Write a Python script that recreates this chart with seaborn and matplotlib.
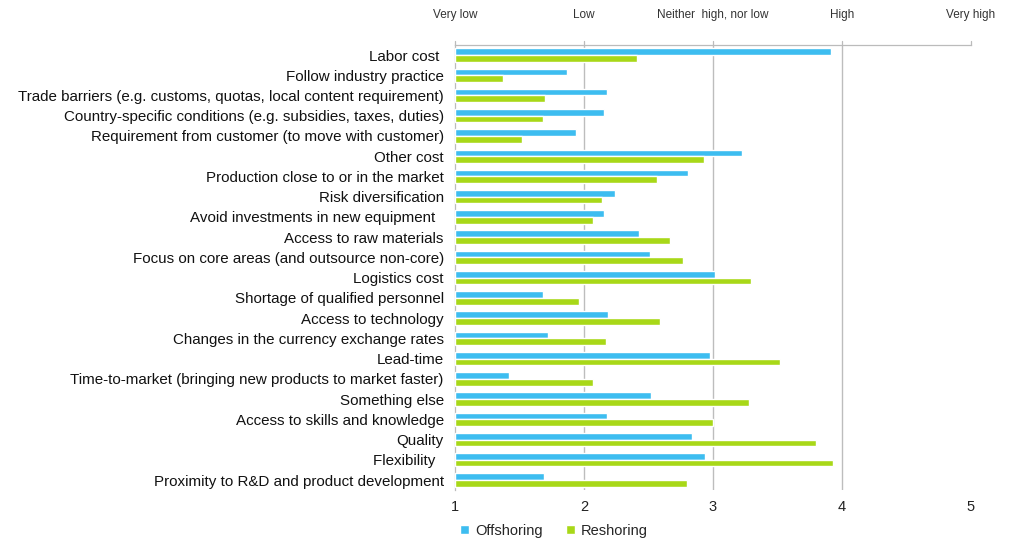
import matplotlib
matplotlib.use("Agg")
import matplotlib.pyplot as plt
import seaborn as sns
import pandas as pd

categories = [
    "Labor cost ",
    "Follow industry practice",
    "Trade barriers (e.g. customs, quotas, local content requirement)",
    "Country-specific conditions (e.g. subsidies, taxes, duties)",
    "Requirement from customer (to move with customer)",
    "Other cost",
    "Production close to or in the market",
    "Risk diversification",
    "Avoid investments in new equipment  ",
    "Access to raw materials",
    "Focus on core areas (and outsource non-core)",
    "Logistics cost",
    "Shortage of qualified personnel",
    "Access to technology",
    "Changes in the currency exchange rates",
    "Lead-time",
    "Time-to-market (bringing new products to market faster)",
    "Something else",
    "Access to skills and knowledge",
    "Quality",
    "Flexibility  ",
    "Proximity to R&D and product development",
]
offshoring = [3.92, 1.87, 2.18, 2.16, 1.94, 3.23, 2.81, 2.24, 2.16, 2.43, 2.51,
              3.02, 1.68, 2.19, 1.72, 2.98, 1.42, 2.52, 2.18, 2.84, 2.94, 1.69]
reshoring = [2.41, 1.37, 1.70, 1.68, 1.52, 2.93, 2.57, 2.14, 2.07, 2.67, 2.77,
             3.30, 1.96, 2.59, 2.17, 3.52, 2.07, 3.28, 3.00, 3.80, 3.93, 2.80]
series_names = ["Offshoring", "Reshoring"]
x_ticks = [1, 2, 3, 4, 5]
scale_labels = ["Very low", "Low", "Neither  high, nor low", "High", "Very high"]

df = pd.DataFrame({
    "factor": categories * 2,
    "value": offshoring + reshoring,
    "series": [series_names[0]] * len(categories) + [series_names[1]] * len(categories),
})

sns.set_theme(style="white")
plt.rcParams["font.family"] = ["Liberation Sans", "DejaVu Sans"]

fig = plt.figure(figsize=(10.11, 5.41), dpi=100)
ax = fig.add_axes([0.450, 0.094, 0.510, 0.823])

palette = {"Offshoring": "#3DBDF0", "Reshoring": "#A8D818"}
sns.barplot(data=df, y="factor", x="value", hue="series", palette=palette,
            orient="h", width=0.66, gap=0, ax=ax, saturation=1, legend=True, zorder=3)

# bars start at 1 (axis origin)
for patch in ax.patches:
    w = patch.get_width()
    if w > 0:
        patch.set_x(1)
        patch.set_width(w - 1)

ax.set_xlim(1, 5)
ax.set_ylim(len(categories) - 0.5, -0.5)
ax.set_xticks(x_ticks)
ax.set_xticklabels([str(t) for t in x_ticks], fontsize=10.5, color="#222222")
ax.tick_params(axis="x", length=0, pad=7)
ax.set_xlabel("")
ax.set_ylabel("")
ax.tick_params(axis="y", length=0, labelsize=10.9, pad=8, labelcolor="#111111")
ax.set_yticks(range(len(categories)), minor=False)
ax.set_yticks([i + 0.5 for i in range(-1, len(categories))], minor=True)
ax.tick_params(axis="y", which="minor", length=3, color="#BBBBBB", width=0.8)

ax.grid(False)
for xv in x_ticks[1:-1]:
    ax.axvline(xv, color="#BDBDBD", linewidth=1.0, zorder=1)
for s in ["right", "bottom"]:
    ax.spines[s].set_visible(False)
for s in ["left", "top"]:
    ax.spines[s].set_color("#BBBBBB")
    ax.spines[s].set_linewidth(0.9)

# top scale labels
for xv, lab in zip(x_ticks, scale_labels):
    ax.text(xv, 1.067, lab, transform=ax.get_xaxis_transform(), ha="center",
            va="center", fontsize=8.5, color="#333333")
# top tick marks
for xv in x_ticks:
    ax.plot([xv, xv], [1.0, 1.008], transform=ax.get_xaxis_transform(),
            color="#BBBBBB", lw=0.9, clip_on=False)

handles, labels = ax.get_legend_handles_labels()
ax.legend_.remove()
fig.legend(handles, labels, loc="lower center", bbox_to_anchor=(0.548, -0.018),
           ncol=2, frameon=False, fontsize=10.5, handlelength=0.6, handleheight=0.6,
           handletextpad=0.4, columnspacing=1.6)

fig.savefig("out.png", dpi=100)
